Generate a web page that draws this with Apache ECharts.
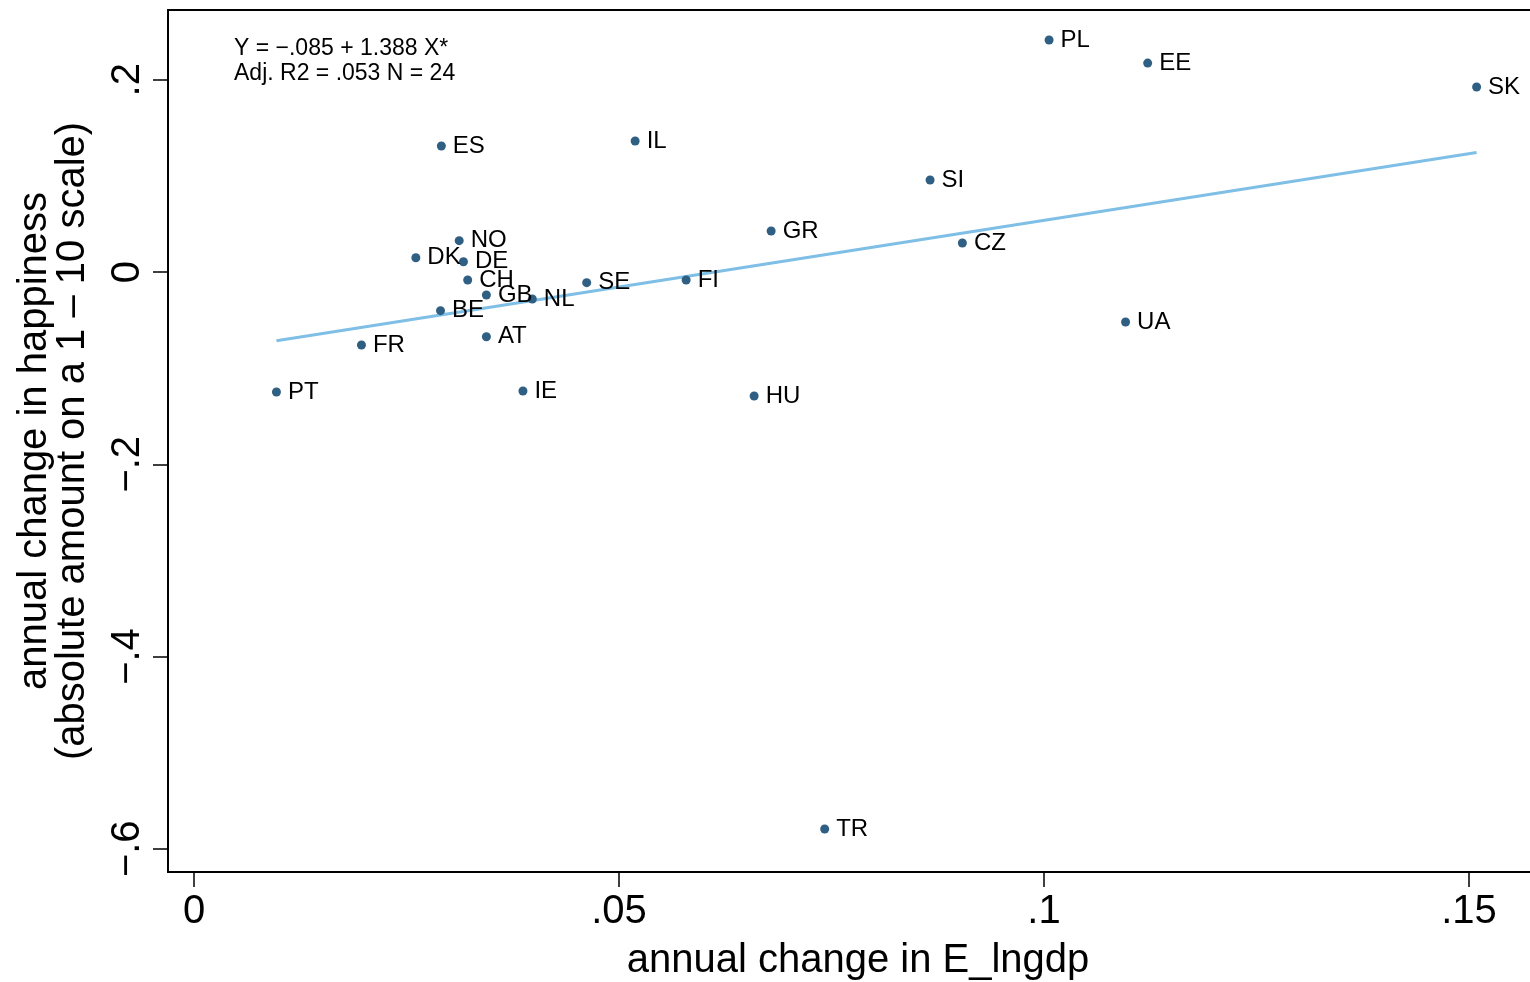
<!DOCTYPE html>
<html>
<head>
<meta charset="utf-8">
<script src="https://cdn.jsdelivr.net/npm/echarts@6/dist/echarts.min.js"></script>
<style>
html,body{margin:0;padding:0;background:#fff;}
#chart{width:1530px;height:982px;}
</style>
</head>
<body>
<div id="chart"></div>
<script>
// Data
const countries = ['PL','EE','SK','ES','IL','SI','GR','CZ','NO','DK','DE','CH','GB','NL','SE','BE','AT','FI','FR','PT','IE','HU','UA','TR'];
const gdpChange = [0.1006,0.1122,0.1509,0.0291,0.0519,0.0866,0.0679,0.0904,0.0312,0.0261,0.0317,0.0322,0.0344,0.0398,0.0462,0.0290,0.0344,0.0579,0.0197,0.0097,0.0387,0.0659,0.1096,0.0742];
const happyChange = [0.2414,0.2174,0.1925,0.1311,0.1363,0.0957,0.0427,0.0302,0.0326,0.0149,0.0107,-0.0083,-0.0239,-0.0281,-0.0111,-0.0402,-0.0673,-0.0083,-0.0759,-0.1248,-0.1238,-0.1290,-0.0520,-0.5795];
// Fitted line endpoints (consistent with Y = -.085 + 1.388 X)
const fitX = [0.0097, 0.1509];
const fitY = [-0.0716, 0.1244];
const xTicks = [0, 0.05, 0.1, 0.15];
const xTickLabels = ['0', '.05', '.1', '.15'];
const yTicks = [-0.6, -0.4, -0.2, 0, 0.2];
const yTickLabels = ['\u2212.6', '\u2212.4', '\u2212.2', '0', '.2'];
const annotation = ['Y = \u2212.085 + 1.388 X*', 'Adj. R2 = .053 N = 24'];

const pts = countries.map((c, i) => ({ name: c, value: [gdpChange[i], happyChange[i]] }));
const fitData = fitX.map((x, i) => [x, fitY[i]]);

const xLabelMap = {}; xTicks.forEach((v, i) => xLabelMap[v.toFixed(4)] = xTickLabels[i]);
const yLabelMap = {}; yTicks.forEach((v, i) => yLabelMap[v.toFixed(4)] = yTickLabels[i]);

const chart = echarts.init(document.getElementById('chart'), null, { renderer: 'canvas' });
const font = 'Liberation Sans, Arial, sans-serif';
chart.setOption({
  animation: false,
  backgroundColor: '#fff',
  grid: { left: 168, top: 10, width: 1380, height: 862, show: true, borderColor: '#000', borderWidth: 2,
    backgroundColor: 'transparent', containLabel: false, outerBoundsMode: 'none' },
  xAxis: {
    type: 'value',
    min: -0.00306, max: 0.1593,
    name: 'annual change in E_lngdp',
    nameLocation: 'middle', nameGap: 69,
    nameTextStyle: { fontFamily: font, fontSize: 40, color: '#000' },
    axisLine: { show: true, onZero: false, lineStyle: { color: '#000', width: 2 } },
    axisTick: { show: true, length: 15, lineStyle: { color: '#000', width: 1.5 }, customValues: xTicks },
    axisLabel: { fontFamily: font, fontSize: 40, color: '#000', margin: 20, customValues: xTicks,
      formatter: v => xLabelMap[Number(v).toFixed(4)] ?? '' },
    splitLine: { show: false }
  },
  yAxis: {
    type: 'value',
    min: -0.6242, max: 0.2726,
    name: 'annual change in happiness\n(absolute amount on a 1 \u2013 10 scale)',
    nameLocation: 'middle', nameGap: 76, nameRotate: 90,
    nameTextStyle: { fontFamily: font, fontSize: 40, color: '#000', lineHeight: 38 },
    axisLine: { show: true, onZero: false, lineStyle: { color: '#000', width: 2 } },
    axisTick: { show: true, length: 15, lineStyle: { color: '#000', width: 1.5 }, customValues: yTicks },
    axisLabel: { fontFamily: font, fontSize: 40, color: '#000', margin: 20, rotate: 90, customValues: yTicks,
      formatter: v => yLabelMap[Number(v).toFixed(4)] ?? '' },
    splitLine: { show: false }
  },
  graphic: [{
    type: 'text', left: 234, top: 36,
    style: { text: annotation.join('\n'), fontFamily: font, fontSize: 23, lineHeight: 25, fill: '#000' }
  }],
  series: [
    {
      type: 'line', data: fitData, showSymbol: false, symbol: 'none',
      lineStyle: { color: '#7fbfe6', width: 3 }, z: 2, silent: true
    },
    {
      type: 'scatter', data: pts, symbolSize: 9,
      itemStyle: { color: '#2f5f82', opacity: 1 }, z: 3,
      label: { show: true, position: 'right', distance: 7, formatter: p => p.name,
        fontFamily: font, fontSize: 24, color: '#000' }
    }
  ]
});
</script>
</body>
</html>
